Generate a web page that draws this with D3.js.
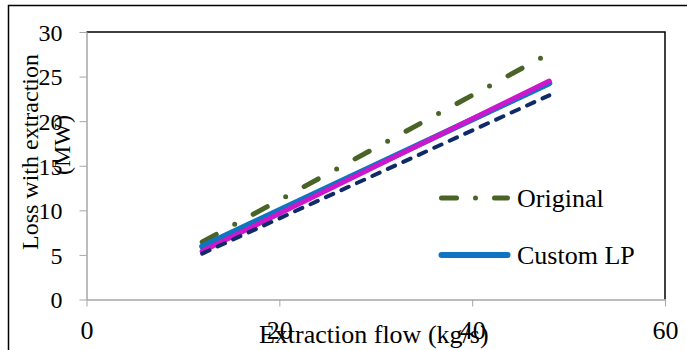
<!DOCTYPE html>
<html>
<head>
<meta charset="utf-8">
<script src="https://cdn.jsdelivr.net/npm/d3@7"></script>
<style>
    body { margin: 0; background: #fff; }
    svg text { font-family: "Liberation Serif", "Times New Roman", serif; fill: #000; }
    .axis path, .axis line { stroke: #a6a6a6; }
</style>
</head>
<body>
<div id="chart"></div>
<script>
// values
var flow = [12, 48];
var original = [6.45, 27.6];
var customLP = [5.95, 24.25];
var magentaSeries = [5.4, 24.5];
var navySeries = [5.15, 22.9];

var xTicks = [0, 20, 40, 60];
var yTicks = [0, 5, 10, 15, 20, 25, 30];

var margin = {top: 32, right: 22, bottom: 50.5, left: 86.5},
    width = 687 - margin.left - margin.right,
    height = 350 - margin.top - margin.bottom;

var svg = d3.select("#chart").append("svg")
    .attr("width", 687)
    .attr("height", 350);

// outer frame (right/bottom fall outside the picture)
svg.append("rect")
    .attr("x", 8.5).attr("y", 5.5)
    .attr("width", 700).attr("height", 360)
    .attr("fill", "none")
    .attr("stroke", "#000")
    .attr("stroke-width", 1.5);

var g = svg.append("g")
    .attr("transform", "translate(" + margin.left + "," + margin.top + ")");

var x = d3.scaleLinear().domain([0, 60]).range([0, width]);
var y = d3.scaleLinear().domain([0, 30]).range([height, 0]);

// black top/right borders of plot area
g.append("path")
    .attr("d", "M0,0H" + width + "V" + height)
    .attr("fill", "none")
    .attr("stroke", "#000")
    .attr("stroke-width", 1.5);

var xAxis = d3.axisBottom(x).tickValues(xTicks).tickSize(7).tickSizeOuter(0);
var yAxis = d3.axisLeft(y).tickValues(yTicks).tickSize(7).tickSizeOuter(0);

var gX = g.append("g")
    .attr("class", "x-axis axis")
    .attr("transform", "translate(0," + height + ")")
    .call(xAxis);
gX.selectAll("text")
    .attr("dy", null)
    .attr("y", 39)
    .style("font-size", "26px");

var gY = g.append("g")
    .attr("class", "y-axis axis")
    .call(yAxis);
gY.selectAll("text")
    .attr("x", -24)
    .attr("dy", "0.35em")
    .style("font-size", "24px");
g.selectAll(".axis path").attr("stroke-width", 1.5);

var series = [
    {name: "Original", values: original, color: "#4a6428", width: 5, dash: "16,21,0,21"},
    {name: "Custom LP", values: customLP, color: "#0f75c2", width: 6, dash: null},
    {name: "Series 3", values: magentaSeries, color: "#cc17cc", width: 5, dash: null},
    {name: "Series 4", values: navySeries, color: "#0f2a68", width: 4, dash: "8,9"}
];

var line = d3.line()
    .x(function(d) { return x(d[0]); })
    .y(function(d) { return y(d[1]); });

g.selectAll(".lines")
    .data(series)
    .enter()
    .append("path")
    .attr("class", "lines")
    .attr("fill", "none")
    .attr("stroke-linecap", "round")
    .attr("stroke", function(d) { return d.color; })
    .attr("stroke-width", function(d) { return d.width; })
    .attr("stroke-dasharray", function(d) { return d.dash; })
    .attr("d", function(d) {
        return line(flow.map(function(f, i) { return [f, d.values[i]]; }));
    });

// legend (only first two entries visible)
var legend = g.append("g")
    .attr("transform", "translate(" + (439 - margin.left) + "," + (198 - margin.top) + ")");

var legendItems = legend.selectAll("g")
    .data(series.slice(0, 2))
    .enter()
    .append("g")
    .attr("transform", function(d, i) { return "translate(0," + (57 * i) + ")"; });

legendItems.append("line")
    .attr("x1", 2.5).attr("x2", 68.5)
    .attr("y1", 0).attr("y2", 0)
    .attr("stroke-linecap", "round")
    .attr("stroke", function(d) { return d.color; })
    .attr("stroke-width", function(d) { return d.width; })
    .attr("stroke-dasharray", function(d) { return d.dash ? "15,19,0,19" : null; });

legendItems.append("text")
    .attr("x", 78)
    .attr("y", 9)
    .style("font-size", "26px")
    .text(function(d) { return d.name; });

// axis titles
g.append("text")
    .attr("text-anchor", "middle")
    .attr("x", x(30) - 2)
    .attr("y", height + 43)
    .style("font-size", "26px")
    .text("Extraction flow (kg/s)");

svg.append("text")
    .attr("text-anchor", "middle")
    .attr("transform", "translate(38,152) rotate(-90)")
    .style("font-size", "24px")
    .text("Loss with extraction");

svg.append("text")
    .attr("text-anchor", "middle")
    .attr("transform", "translate(70,145) rotate(-90)")
    .style("font-size", "24px")
    .text("(MW)");
</script>
</body>
</html>
